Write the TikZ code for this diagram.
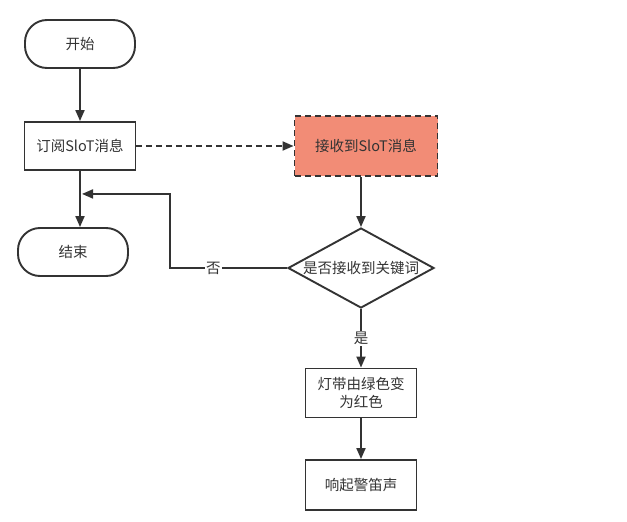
\documentclass[tikz,border=0pt]{standalone}
\usepackage{fontspec}
\setmainfont{Noto Sans CJK SC}
\usetikzlibrary{shapes.geometric, positioning, arrows.meta}
\definecolor{linegray}{HTML}{333333}
\definecolor{salmon}{HTML}{F28C76}

\begin{document}
\begin{tikzpicture}[on grid, font=\fontsize{14.5}{18}\selectfont,
    line width=1.9pt, text=linegray,
    terminal/.style={draw=linegray, line width=1.9pt, rounded corners=22pt, minimum width=110pt, minimum height=48pt},
    process/.style={draw=linegray, line width=1.9pt, minimum width=111pt, minimum height=48pt, align=center},
    decision/.style={draw=linegray, line width=1.9pt, diamond, shape aspect=1.825, inner sep=-4pt, minimum width=146pt, minimum height=80pt},
    dashes/.style={dash pattern=on 6pt off 4pt},
    arr/.style={draw=linegray, line width=1.9pt, -{Triangle[width=9pt,length=11pt]}}]
  \useasboundingbox (0,0) rectangle (627pt,-522pt);
  \node[terminal] (start) at (80pt,-44pt) {开始};
  \node[process] (sub) [below=102pt of start] {订阅SloT消息};
  \node[terminal] (end) [below=106pt of sub, xshift=-7pt] {结束};
  \node[process, fill=salmon, dashes, minimum width=143pt, minimum height=60pt] (recv) [right=286pt of sub] {接收到SloT消息};
  \node[decision] (decide) [below=122pt of recv, xshift=-5pt] {是否接收到关键词};
  \node[process, minimum height=49pt] (light) [below=125pt of decide] {灯带由绿色变\\为红色};
  \node[process, minimum height=50pt] (siren) [below=92pt of light] {响起警笛声};
  \draw[arr] (start) -- (sub);
  \draw[arr] (sub.south) -- (sub.south |- end.north);
  \draw[arr] (recv.south -| decide.north) -- (decide.north);
  \draw[arr] (decide) -- node[fill=white, inner sep=1pt] {是} (light);
  \draw[arr] (light) -- (siren);
  \draw[arr, dashes] (sub) -- (recv);
  \draw[arr] (decide.west) -- node[fill=white, inner sep=1pt, pos=0.63] {否} ++(-117pt,0)
    |- ([xshift=2pt, yshift=-23pt]sub.south);
\end{tikzpicture}
\end{document}
